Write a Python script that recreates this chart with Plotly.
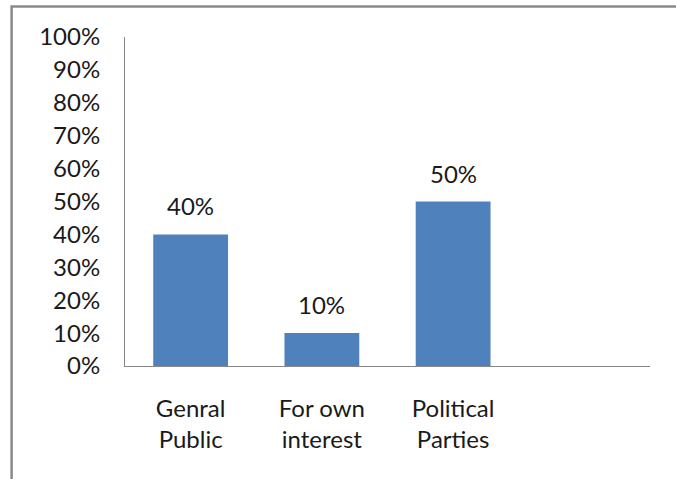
import plotly.graph_objects as go

# Share of responses per category
categories = ["Genral<br>Public", "For own<br>interest", "Political<br>Parties"]
shares = [0.40, 0.10, 0.50]
y_ticks = [i / 10 for i in range(11)]

FONT = "Lato"
TEXT = "#1a1a1a"
positions = list(range(len(categories)))

fig = go.Figure(
    go.Bar(
        x=positions,
        y=shares,
        width=0.57,
        marker=dict(color="#4F81BD", line=dict(width=0)),
        hoverinfo="skip",
    )
)

# Value labels above each bar
for xp, v in zip(positions, shares):
    fig.add_annotation(
        x=xp, y=v, xref="x", yref="y",
        text=f"{v:.0%}", showarrow=False,
        yanchor="bottom", yshift=12,
        font=dict(family=FONT, size=24, color=TEXT),
    )

# Outer frame of the chart
fig.add_shape(
    type="rect", xref="paper", yref="paper",
    x0=-0.216, x1=1.2, y0=-0.5, y1=1.0927,
    line=dict(color="#8a8a8a", width=2.5),
    fillcolor="rgba(0,0,0,0)", layer="below",
)

fig.update_layout(
    width=676, height=479,
    margin=dict(l=125, r=26, t=37, b=113),
    paper_bgcolor="white", plot_bgcolor="white",
    showlegend=False,
    font=dict(family=FONT, size=24, color=TEXT),
    xaxis=dict(
        range=[-0.5, 3.5],
        tickvals=positions, ticktext=categories,
        showline=True, linecolor="#868686", linewidth=1,
        showgrid=False, zeroline=False, ticks="",
        ticklabelstandoff=21,
        fixedrange=True,
    ),
    yaxis=dict(
        range=[0, 1],
        tickvals=y_ticks, tickformat=".0%",
        showline=True, linecolor="#868686", linewidth=1,
        showgrid=False, zeroline=False, ticks="",
        ticklabelstandoff=19,
        fixedrange=True,
    ),
)

fig.write_html("out.html")
